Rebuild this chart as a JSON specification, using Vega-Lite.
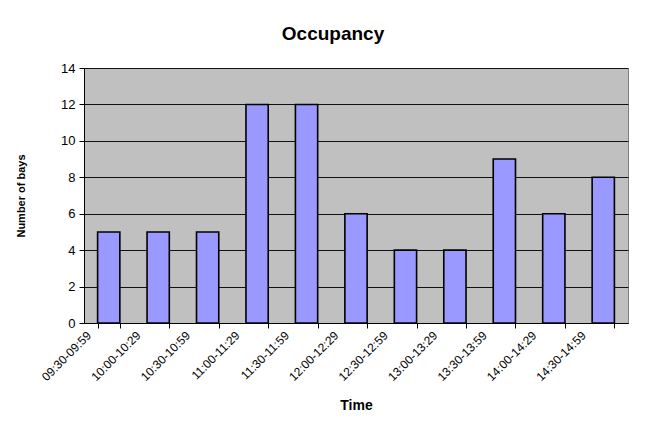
{
  "$schema": "https://vega.github.io/schema/vega-lite/v6.json",
  "width": 544,
  "height": 255,
  "autosize": {"type": "none"},
  "padding": {"left": 84, "top": 68, "right": 21, "bottom": 101},
  "background": "white",
  "title": {
    "text": "Occupancy",
    "font": "Liberation Sans",
    "fontSize": 19,
    "fontWeight": "bold",
    "color": "black",
    "offset": 18,
    "dx": -23
  },
  "data": {
    "values": [
      {"time": "09:30-09:59", "bays": 5},
      {"time": "10:00-10:29", "bays": 5},
      {"time": "10:30-10:59", "bays": 5},
      {"time": "11:00-11:29", "bays": 12},
      {"time": "11:30-11:59", "bays": 12},
      {"time": "12:00-12:29", "bays": 6},
      {"time": "12:30-12:59", "bays": 4},
      {"time": "13:00-13:29", "bays": 4},
      {"time": "13:30-13:59", "bays": 9},
      {"time": "14:00-14:29", "bays": 6},
      {"time": "14:30-14:59", "bays": 8}
    ]
  },
  "mark": {"type": "bar", "fill": "#9999FF", "stroke": "black", "strokeWidth": 1.6},
  "encoding": {
    "x": {
      "field": "time",
      "type": "ordinal",
      "sort": null,
      "title": "Time",
      "scale": {"paddingInner": 0.55, "paddingOuter": 0.275},
      "axis": {
        "labelAngle": -45,
        "labelAlign": "right",
        "labelBaseline": "middle",
        "labelOffset": -20,
        "labelPadding": 5,
        "labelFontSize": 12,
        "tickBand": "extent",
        "tickSize": 5,
        "titlePadding": 16,
        "titleFontSize": 14
      }
    },
    "y": {
      "field": "bays",
      "type": "quantitative",
      "title": "Number of bays",
      "scale": {"domain": [0, 14], "nice": false},
      "axis": {
        "values": [0, 2, 4, 6, 8, 10, 12, 14],
        "tickSize": 5,
        "labelPadding": 4,
        "labelFontSize": 13,
        "titlePadding": 34,
        "titleFontSize": 11
      }
    }
  },
  "config": {
    "font": "Liberation Sans",
    "view": {"fill": "#C0C0C0", "stroke": "#808080", "strokeWidth": 1},
    "axis": {
      "labelColor": "black",
      "titleColor": "black",
      "titleFontWeight": "bold",
      "domainColor": "black",
      "tickColor": "black",
      "gridColor": "#111111",
      "gridWidth": 1,
      "gridOpacity": 1,
      "labelFont": "Liberation Sans",
      "titleFont": "Liberation Sans"
    },
    "axisX": {"grid": false}
  }
}
